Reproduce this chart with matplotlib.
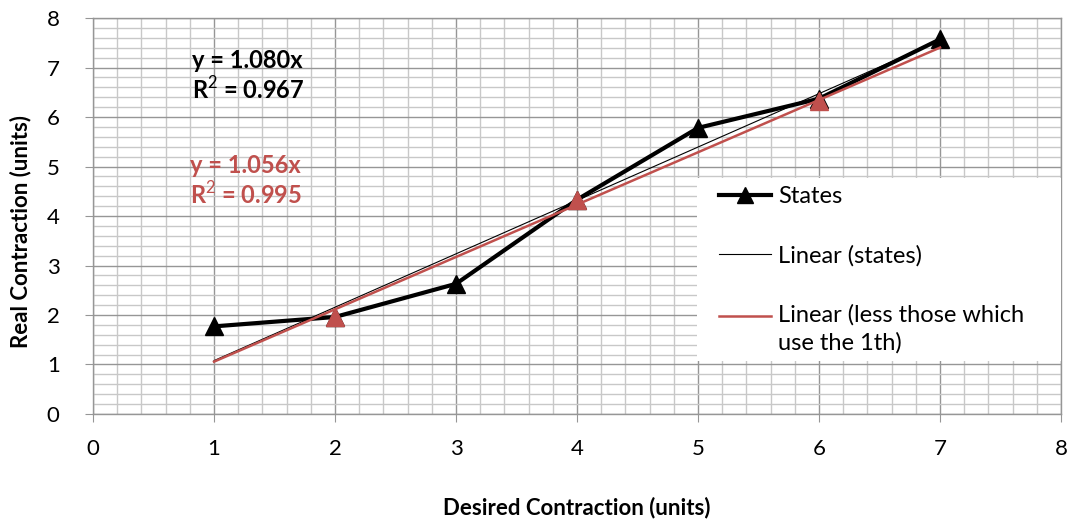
import numpy as np
import matplotlib
matplotlib.use("Agg")
import matplotlib.pyplot as plt
from matplotlib.ticker import MultipleLocator
from matplotlib.lines import Line2D
from matplotlib.patches import Rectangle
from matplotlib.legend_handler import HandlerLine2D

# data
desired = [1, 2, 3, 4, 5, 6, 7]
real = [1.77, 1.96, 2.63, 4.33, 5.78, 6.37, 7.57]
# subset without those which use the 1th
desired_sub = [2, 4, 6]
real_sub = [1.96, 4.33, 6.33]

eq_states = ["y = 1.080x", "R$^2$ = 0.967"]
eq_sub = ["y = 1.056x", "R$^2$ = 0.995"]
leg_labels = ['States', 'Linear (states)', 'Linear (less those which\nuse the 1th)']

RED = "#C0504D"
plt.rcParams['font.family'] = ['Lato', 'DejaVu Sans']
plt.rcParams['mathtext.fontset'] = 'custom'
plt.rcParams['mathtext.rm'] = 'Lato'
plt.rcParams['mathtext.bf'] = 'Lato:bold'

def slope0(x, y):
    x = np.array(x, float); y = np.array(y, float)
    return (x * y).sum() / (x * x).sum()

# legend handle lined up with the first line of a two-line label
class FirstLineHandler(HandlerLine2D):
    def create_artists(self, legend, orig_handle, xdescent, ydescent, width, height, fontsize, trans):
        arts = super().create_artists(legend, orig_handle, xdescent, ydescent,
                                      width, height, fontsize, trans)
        for a in arts:
            a.set_ydata(np.asarray(a.get_ydata()) + 0.58 * fontsize)
        return arts

fig = plt.figure(figsize=(10.67, 5.22), dpi=100)
ax = fig.add_axes([0.0872, 0.2069, 0.9072, 0.7586])

xs = np.array([desired[0], desired[-1]], float)
k1 = slope0(desired, real)
k2 = slope0(desired_sub, real_sub)

ax.plot(desired, real, color='black', lw=3.0, marker='^', ms=13, zorder=3)
ax.plot(desired_sub, real_sub, ls='none', marker='^', ms=13, color=RED, zorder=4)
ax.plot(xs, k1 * xs, color='black', lw=0.8, zorder=3.5)
ax.plot(xs, k2 * xs, color=RED, lw=1.8, zorder=3.6)

ax.set_xlim(0, 8)
ax.set_ylim(0, 8)
ax.xaxis.set_major_locator(MultipleLocator(1))
ax.yaxis.set_major_locator(MultipleLocator(1))
ax.xaxis.set_minor_locator(MultipleLocator(0.2))
ax.yaxis.set_minor_locator(MultipleLocator(0.2))
ax.grid(which='minor', color='#c8c8c8', lw=1.0, zorder=0)
ax.grid(which='major', color='#969696', lw=1.0, zorder=0)
ax.set_axisbelow(True)
for s in ax.spines.values():
    s.set_color('#969696')
    s.set_linewidth(1.0)
ax.tick_params(which='major', direction='out', length=6, color='#969696',
               labelsize=16)
ax.tick_params(axis='x', pad=12)
ax.tick_params(axis='y', pad=18)
ax.tick_params(which='minor', length=0)

ax.set_xlabel('Desired Contraction (units)', fontsize=16, fontweight='bold')
ax.set_ylabel('Real Contraction (units)', fontsize=16, fontweight='bold')
ax.xaxis.set_label_coords(0.5, -0.21)
ax.yaxis.set_label_coords(-0.064, 0.46)

ax.text(0.82, 7.15, eq_states[0], fontsize=17, fontweight='bold', color='black', va='center')
ax.text(0.82, 6.56, eq_states[1], fontsize=17, fontweight='bold', color='black', va='center')
ax.text(0.80, 5.03, eq_sub[0], fontsize=17, fontweight='bold', color=RED, va='center')
ax.text(0.80, 4.45, eq_sub[1], fontsize=17, fontweight='bold', color=RED, va='center')

# legend box (white, no border), hugging the right spine
ax.add_patch(Rectangle((0.624, 0.134), 0.376, 0.461, transform=ax.transAxes,
                       facecolor='white', edgecolor='none', zorder=5))
handles = [Line2D([], [], color='black', lw=3.0, marker='^', ms=12),
           Line2D([], [], color='black', lw=0.8),
           Line2D([], [], color=RED, lw=1.8)]
leg = ax.legend(handles, leg_labels, loc='upper left', bbox_to_anchor=(0.647, 0.576),
                fontsize=17, frameon=False, borderpad=0, borderaxespad=0,
                labelspacing=1.6, handlelength=2.2, handletextpad=0.3,
                handler_map={handles[2]: FirstLineHandler()})
for t in leg.get_texts():
    t.set_linespacing(1.4)
leg.set_zorder(6)

fig.savefig('out.png', dpi=100)
